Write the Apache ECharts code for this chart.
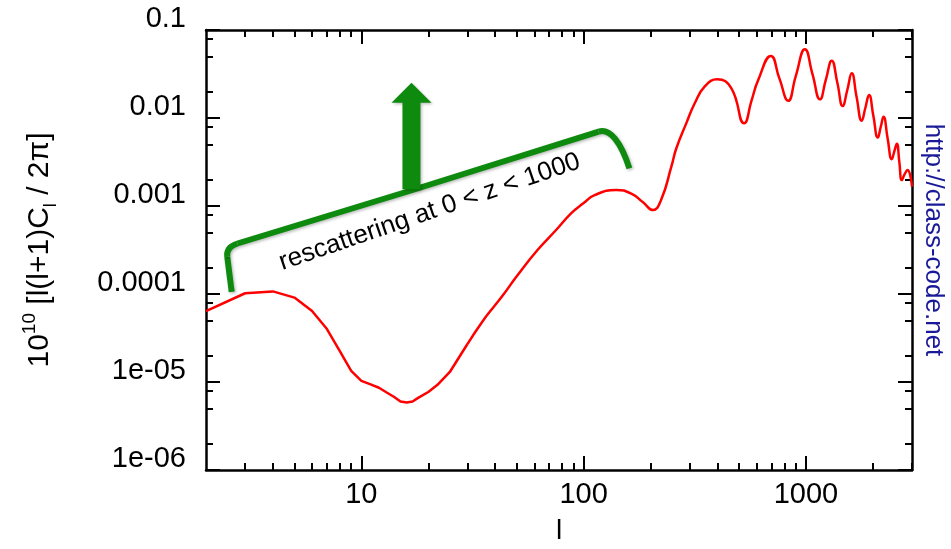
<!DOCTYPE html>
<html><head><meta charset="utf-8">
<script src="https://cdn.jsdelivr.net/npm/echarts@6/dist/echarts.min.js"></script>
<style>html,body{margin:0;padding:0;background:#fff}#c{width:951px;height:549px}</style>
</head><body><div id="c"></div>
<script>
// ---- data ----
const lowEll = [2,3,4,5,6,7,8,9,10,11,12,13,14,15,16,17,18,20,22,25,30];
const lowCl = [6.4e-5,1.02e-4,1.07e-4,9.1e-5,6.4e-5,4.0e-5,2.25e-5,1.34e-5,1.03e-5,9.4e-6,8.6e-6,7.6e-6,6.8e-6,6.0e-6,5.85e-6,6.0e-6,6.6e-6,7.7e-6,9.3e-6,1.3e-5,2.7e-5];
const highEll = [30,35,40,44,50,62,75,88,100,112,140,163,185,205,223,248,261,290,316,350,399,462,527,570,610,695,760,832,900,989,1070,1156,1230,1306,1385,1463,1535,1607,1690,1782,1850,1923,2010,2105,2170,2233,2330,2433,2500,2564,2630,2700,2780,2863,3000];
const highCl = [2.7e-5,4.85e-5,7.5e-5,1.02e-4,1.59e-4,3.16e-4,5.3e-4,8.3e-4,1.08e-3,1.33e-3,1.52e-3,1.39e-3,1.1e-3,9.0e-4,1.17e-3,2.8e-3,4.5e-3,8.8e-3,0.0147,0.0227,0.0275,0.0217,8.7e-3,0.016,0.027,0.0507,0.028,0.0157,0.030,0.0604,0.0316,0.0163,0.0274,0.0448,0.025,0.0137,0.0208,0.0322,0.0173,9.3e-3,0.013,0.0182,0.0106,6.0e-3,7.9e-3,0.0103,5.9e-3,3.4e-3,4.2e-3,5.1e-3,3.2e-3,1.97e-3,2.3e-3,2.56e-3,1.66e-3];

const xMajorTicks = [10,100,1000];
const xTickLabels = ['10','100','1000'];
const xMinorTicks = [3,4,5,6,7,8,9,20,30,40,50,60,70,80,90,200,300,400,500,600,700,800,900,2000,3000];
const yMajorTicks = [1e-6,1e-5,1e-4,1e-3,1e-2,1e-1];
const yTickLabels = ['1e-06','1e-05','0.0001','0.001','0.01','0.1'];
const yMinorTicks = [2e-6,5e-6,8e-6,2e-5,5e-5,8e-5,2e-4,5e-4,8e-4,2e-3,5e-3,8e-3,2e-2,5e-2,8e-2];

const xName = 'l';
const yNameRich = '{n|10}{sup|10}{n| [l(l+1)C}{sub|l}{n| / 2π]}';
const noteText = 'rescattering at 0 < z < 1000';
const urlText = 'http://class-code.net';

// annotation anchors in data units (l, value)
const bracketAnchors = {
  leftEnd: [2.61, 1.06e-4], leftCorner: [2.46, 3.42e-4],
  middle: [17.0, 1.52e-3], rightCorner: [131.5, 7.7e-3], rightEnd: [160.6, 2.68e-3]
};
const arrowAnchors = { tip: [16.8, 0.0252], headBase: [16.8, 0.0149], foot: [16.8, 1.55e-3] };
const noteAnchor = [20.3, 8.55e-4];

// ---- chart ----
const FONT = "'Liberation Sans', Arial, Helvetica, sans-serif";
const X_MIN = 2, X_MAX = 3000, Y_MIN = 1e-6, Y_MAX = 0.1;
const GREEN = '#0e8a0e';

function yLabel(v) {
  const i = yMajorTicks.findIndex(t => Math.abs(Math.log10(t) - Math.log10(v)) < 1e-6);
  return i >= 0 ? yTickLabels[i] : '';
}
function xLabel(v) {
  const i = xMajorTicks.findIndex(t => Math.abs(Math.log10(t) - Math.log10(v)) < 1e-6);
  return i >= 0 ? xTickLabels[i] : '';
}

const axisLine = { show: true, lineStyle: { color: '#000', width: 2.5 } };
function xAx(pos, ticks, len, withLabels, withLine) {
  return {
    type: 'log', logBase: 10, min: X_MIN, max: X_MAX, position: pos,
    axisLine: withLine ? axisLine : { show: false },
    axisTick: { show: true, inside: true, length: len, customValues: ticks, lineStyle: { color: '#000', width: 2 } },
    axisLabel: withLabels ? { show: true, customValues: ticks, formatter: xLabel, color: '#000', fontSize: 29, fontFamily: FONT, margin: 10 } : { show: false },
    splitLine: { show: false }, minorTick: { show: false }
  };
}
function yAx(pos, ticks, len, withLabels, withLine) {
  return {
    type: 'log', logBase: 10, min: Y_MIN, max: Y_MAX, position: pos,
    axisLine: withLine ? axisLine : { show: false },
    axisTick: { show: true, inside: true, length: len, customValues: ticks, lineStyle: { color: '#000', width: 2 } },
    axisLabel: withLabels ? { show: true, customValues: ticks, formatter: yLabel, color: '#000', fontSize: 29, fontFamily: FONT, margin: 20, verticalAlign: 'bottom', lineHeight: 22 } : { show: false },
    splitLine: { show: false }, minorTick: { show: false }
  };
}

const xAxes = [
  xAx('bottom', xMajorTicks, 14, true, true),
  xAx('bottom', xMinorTicks, 7, false, false),
  xAx('top', xMajorTicks, 14, false, true),
  xAx('top', xMinorTicks, 7, false, false)
];
xAxes[0].name = xName;
xAxes[0].nameLocation = 'middle';
xAxes[0].nameGap = 47;
xAxes[0].nameTextStyle = { fontSize: 28, fontFamily: FONT, color: '#000' };

const yAxes = [
  yAx('left', yMajorTicks, 14, true, true),
  yAx('left', yMinorTicks, 7, false, false),
  yAx('right', yMajorTicks, 14, false, true),
  yAx('right', yMinorTicks, 7, false, false)
];
yAxes[0].name = yNameRich;
yAxes[0].nameLocation = 'middle';
yAxes[0].nameRotate = 90;
yAxes[0].nameGap = 146;
yAxes[0].nameTextStyle = {
  color: '#000', fontFamily: FONT,
  rich: {
    n: { fontSize: 30, fontFamily: FONT, color: '#000', lineHeight: 40, verticalAlign: 'middle' },
    sup: { fontSize: 19, fontFamily: FONT, color: '#000', lineHeight: 24, verticalAlign: 'top' },
    sub: { fontSize: 18, fontFamily: FONT, color: '#000', lineHeight: 20, verticalAlign: 'bottom' }
  }
};

const option = {
  animation: false,
  backgroundColor: '#fff',
  grid: { left: 206, top: 30, width: 706, height: 440, containLabel: false, outerBoundsMode: 'none' },
  xAxis: xAxes,
  yAxis: yAxes,
  series: [
    { type: 'line', xAxisIndex: 0, yAxisIndex: 0, showSymbol: false, smooth: false,
      lineStyle: { color: '#ff0000', width: 2.5 },
      data: lowEll.map((l, i) => [l, lowCl[i]]) },
    { type: 'line', xAxisIndex: 0, yAxisIndex: 0, showSymbol: false, smooth: 0.5,
      lineStyle: { color: '#ff0000', width: 2.5 },
      data: highEll.map((l, i) => [l, highCl[i]]) }
  ]
};

const chart = echarts.init(document.getElementById('c'));
chart.setOption(option);

const px = p => chart.convertToPixel({ xAxisIndex: 0, yAxisIndex: 0 }, p);
function toward(a, b, d) {
  const dx = b[0] - a[0], dy = b[1] - a[1], L = Math.hypot(dx, dy);
  return [a[0] + dx / L * d, a[1] + dy / L * d];
}
const p1 = px(bracketAnchors.leftEnd), c1 = px(bracketAnchors.leftCorner), m = px(bracketAnchors.middle);
const c2 = px(bracketAnchors.rightCorner), p2 = px(bracketAnchors.rightEnd);
const a1 = toward(c1, p1, 10);
const a2 = toward(c1, m, 12);
const b1 = toward(c2, m, 12);
const bc = toward(c2, p2, 16);

const tip = px(arrowAnchors.tip), hb = px(arrowAnchors.headBase), ft = px(arrowAnchors.foot);
const sw = 9, hw = 20;
const arrowPts = [[ft[0]-sw, ft[1]], [hb[0]-sw, hb[1]], [hb[0]-hw, hb[1]], [tip[0], tip[1]], [hb[0]+hw, hb[1]], [hb[0]+sw, hb[1]], [ft[0]+sw, ft[1]]];
const np = px(noteAnchor);
const lineStyle = { fill: null, stroke: GREEN, lineWidth: 6, lineCap: 'butt', lineJoin: 'round', shadowBlur: 3, shadowColor: 'rgba(0,0,0,0.25)', shadowOffsetX: 1.5, shadowOffsetY: 1.5 };

chart.setOption({
  graphic: [
    { type: 'polyline', shape: { points: [p1, a1] }, style: lineStyle, z: 10 },
    { type: 'bezierCurve', shape: { x1: a1[0], y1: a1[1], cpx1: c1[0], cpy1: c1[1], x2: a2[0], y2: a2[1] }, style: lineStyle, z: 10 },
    { type: 'polyline', shape: { points: [a2, m, b1] }, style: lineStyle, z: 10 },
    { type: 'bezierCurve', shape: { x1: b1[0], y1: b1[1], cpx1: c2[0], cpy1: c2[1], cpx2: bc[0] + 4, cpy2: bc[1], x2: p2[0], y2: p2[1] }, style: lineStyle, z: 10 },
    { type: 'polygon', shape: { points: arrowPts }, style: { fill: GREEN, shadowBlur: 3, shadowColor: 'rgba(0,0,0,0.25)', shadowOffsetX: 1.5, shadowOffsetY: 1.5 }, z: 11 },
    { type: 'text', x: np[0], y: np[1], rotation: 0.33, style: { text: noteText, fill: '#000', font: `26px ${FONT}`, align: 'center', verticalAlign: 'middle' }, z: 12 },
    { type: 'text', x: 933, y: 240, rotation: -Math.PI / 2, style: { text: urlText, fill: '#1a1a99', font: `26px ${FONT}`, align: 'center', verticalAlign: 'middle' }, z: 12 }
  ]
});
</script>
</body></html>
